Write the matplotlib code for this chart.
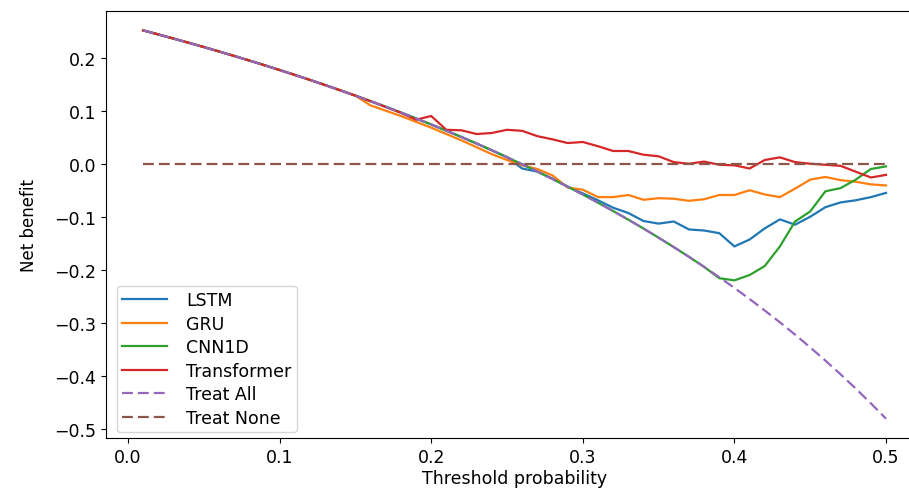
import matplotlib
matplotlib.use("Agg")
import matplotlib.pyplot as plt

# threshold probabilities 0.01 .. 0.50
thresholds = [round(0.01 * i, 2) for i in range(1, 51)]

treat_all = [0.2525, 0.2449, 0.2371, 0.2292, 0.2211, 0.2128, 0.2043, 0.1957, 0.1868, 0.1778,
             0.1685, 0.1591, 0.1494, 0.1395, 0.1294, 0.1190, 0.1084, 0.0976, 0.0864, 0.0750,
             0.0633, 0.0513, 0.0390, 0.0263, 0.0133, 0.0000, -0.0137, -0.0278, -0.0423, -0.0571,
             -0.0725, -0.0882, -0.1045, -0.1212, -0.1385, -0.1563, -0.1746, -0.1935, -0.2131, -0.2333,
             -0.2542, -0.2759, -0.2982, -0.3214, -0.3455, -0.3704, -0.3962, -0.4231, -0.4510, -0.4800]
treat_none = [0.0] * 50

# shared start, all models sit on the treat-all curve at low thresholds
start = treat_all[:15]

lstm = start + [0.1190, 0.1084, 0.0976, 0.0864, 0.0750, 0.0633, 0.0513, 0.0390, 0.0263, 0.0133,
                -0.008, -0.014, -0.027, -0.042, -0.055, -0.068, -0.082, -0.092, -0.107, -0.112,
                -0.108, -0.123, -0.125, -0.130, -0.155, -0.142, -0.121, -0.104, -0.114, -0.099,
                -0.081, -0.072, -0.068, -0.062, -0.054]

gru = start + [0.111, 0.101, 0.091, 0.080, 0.069, 0.057, 0.045, 0.032, 0.019, 0.008,
               -0.002, -0.009, -0.021, -0.044, -0.048, -0.062, -0.062, -0.058, -0.067, -0.064,
               -0.065, -0.069, -0.066, -0.058, -0.058, -0.049, -0.057, -0.062, -0.046, -0.029,
               -0.024, -0.030, -0.033, -0.038, -0.040]

cnn1d = start + [0.1190, 0.1084, 0.0976, 0.0864, 0.0750, 0.0633, 0.0513, 0.0390, 0.0263, 0.0133,
                 0.0000, -0.0137, -0.0278, -0.0423, -0.0571, -0.0725, -0.0882, -0.1045, -0.1212, -0.1385,
                 -0.1563, -0.1746, -0.1935, -0.2150, -0.2190, -0.209, -0.192, -0.155, -0.108, -0.089,
                 -0.051, -0.045, -0.029, -0.009, -0.004]

transformer = start + [0.119, 0.108, 0.097, 0.084, 0.091, 0.065, 0.064, 0.057, 0.059, 0.065,
                       0.063, 0.053, 0.047, 0.040, 0.042, 0.034, 0.025, 0.025, 0.018, 0.015,
                       0.004, 0.001, 0.005, -0.001, -0.002, -0.008, 0.008, 0.013, 0.004, 0.001,
                       -0.001, -0.003, -0.014, -0.025, -0.020]

plt.rcParams["font.size"] = 12.5

fig = plt.figure(figsize=(9.09, 4.89), dpi=100)
ax = fig.add_axes([0.1166, 0.102, 0.899, 0.8735])

lw = 1.6
dash = (4.9, 2.25)
ax.plot(thresholds, lstm, label="LSTM", lw=lw)
ax.plot(thresholds, gru, label="GRU", lw=lw)
ax.plot(thresholds, cnn1d, label="CNN1D", lw=lw)
ax.plot(thresholds, transformer, label="Transformer", lw=lw)
ax.plot(thresholds, treat_all, "--", dashes=dash, label="Treat All", lw=lw)
ax.plot(thresholds, treat_none, "--", dashes=dash, label="Treat None", lw=lw)

ax.set_xlabel("Threshold probability", fontsize=12.5, labelpad=2.5)
ax.set_ylabel("Net benefit", fontsize=12, labelpad=12)
ax.legend(loc="lower left", bbox_to_anchor=(0.0135, 0.014), borderaxespad=0,
          fontsize=12.5, labelspacing=0.32, handlelength=2.6,
          handletextpad=1.1, borderpad=0.3)

fig.savefig("out.png", dpi=100)
